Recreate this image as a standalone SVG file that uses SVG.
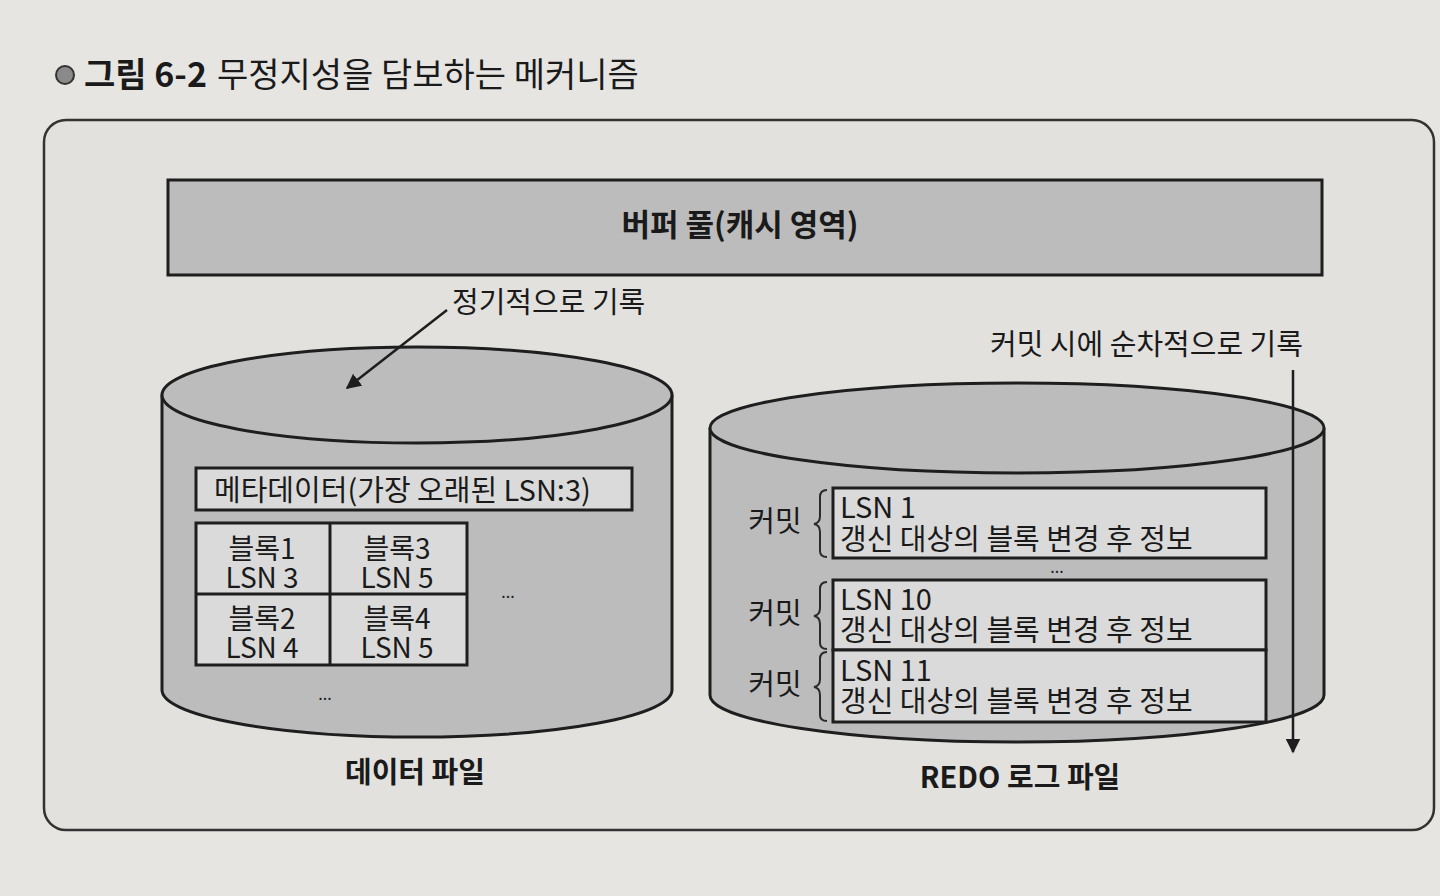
<svg xmlns="http://www.w3.org/2000/svg" width="1440" height="896" viewBox="0 0 1440 896">
<defs>
<style>
text{font-family:"Noto Sans CJK KR","Noto Sans",sans-serif;fill:#1a1a1a}
.shape{fill:#bcbcbc;stroke:#1e1e1e;stroke-width:3}
.box{fill:#dadada;stroke:#1e1e1e;stroke-width:3}
.lbl{font-size:29px}
.blk{font-size:28px}
.bold{font-weight:700}
.conn{stroke:#1e1e1e;stroke-width:2.5;fill:none}
.brace{stroke:#2a2a2a;stroke-width:2;fill:none}
</style>
<marker id="ah" viewBox="0 0 10 10" refX="9" refY="5" markerWidth="6" markerHeight="6" orient="auto">
<path d="M0,0 L10,5 L0,10 z" fill="#1e1e1e"/>
</marker>
</defs>
<rect width="1440" height="896" fill="#e6e5e2"/>
<g id="title">
<circle cx="65" cy="75" r="9" fill="#8a8a8a" stroke="#333" stroke-width="2"/>
<text x="84" y="87" font-size="34"><tspan font-weight="700">그림 6-2</tspan><tspan dx="10">무정지성을 담보하는 메커니즘</tspan></text>
</g>
<g id="frame">
<rect x="44" y="120" width="1390" height="710" rx="22" fill="#e2e1de" stroke="#333" stroke-width="2.5"/>
</g>
<g id="buffer-pool">
<rect class="shape" x="168" y="180" width="1154" height="95"/>
<text class="bold" x="740" y="236" text-anchor="middle" font-size="31">버퍼 풀(캐시 영역)</text>
</g>
<g id="data-file">
<path class="shape" d="M162,395 L162,690 A255,47 0 0 0 672,690 L672,395"/>
<ellipse class="shape" cx="417" cy="395" rx="255" ry="48"/>
<rect class="box" x="196" y="468" width="436" height="42"/>
<text class="lbl" x="214" y="501">메타데이터(가장 오래된 LSN:3)</text>
<rect class="box" x="196" y="523" width="271" height="142"/>
<line x1="330" y1="523" x2="330" y2="665" stroke="#1e1e1e" stroke-width="3"/>
<line x1="196" y1="594" x2="467" y2="594" stroke="#1e1e1e" stroke-width="3"/>
<text class="blk" x="262" y="559" text-anchor="middle">블록1</text>
<text class="blk" x="262" y="588" text-anchor="middle">LSN 3</text>
<text class="blk" x="397" y="559" text-anchor="middle">블록3</text>
<text class="blk" x="397" y="588" text-anchor="middle">LSN 5</text>
<text class="blk" x="262" y="629" text-anchor="middle">블록2</text>
<text class="blk" x="262" y="658" text-anchor="middle">LSN 4</text>
<text class="blk" x="397" y="629" text-anchor="middle">블록4</text>
<text class="blk" x="397" y="658" text-anchor="middle">LSN 5</text>
<text x="508" y="598" font-size="16" text-anchor="middle" fill="#666">...</text>
<text x="325" y="700" font-size="16" text-anchor="middle" fill="#666">...</text>
<text class="lbl bold" x="415" y="783" text-anchor="middle">데이터 파일</text>
</g>
<g id="redo-log">
<path class="shape" d="M710,428 L710,695 A307,47 0 0 0 1324,695 L1324,428"/>
<ellipse class="shape" cx="1017" cy="428" rx="307" ry="45"/>
<rect class="box" x="833" y="488" width="433" height="70"/>
<text class="lbl" x="840" y="518">LSN 1</text>
<text class="lbl" x="840" y="550">갱신 대상의 블록 변경 후 정보</text>
<text x="1057" y="573" font-size="16" text-anchor="middle" fill="#555">...</text>
<rect class="box" x="833" y="580" width="433" height="70"/>
<text class="lbl" x="840" y="610">LSN 10</text>
<text class="lbl" x="840" y="641">갱신 대상의 블록 변경 후 정보</text>
<rect class="box" x="833" y="650" width="433" height="72"/>
<text class="lbl" x="840" y="681">LSN 11</text>
<text class="lbl" x="840" y="712">갱신 대상의 블록 변경 후 정보</text>
<path class="brace" d="M827,490 q-7,0 -7,7 v19 q0,7 -6,8 q6,1 6,8 v19 q0,6 7,6"/>
<path class="brace" d="M827,582 q-7,0 -7,7 v19 q0,7 -6,8 q6,1 6,8 v19 q0,6 7,6"/>
<path class="brace" d="M827,652 q-7,0 -7,7 v20 q0,7 -6,8 q6,1 6,8 v20 q0,6 7,6"/>
<text class="lbl" x="775" y="532" text-anchor="middle">커밋</text>
<text class="lbl" x="775" y="624" text-anchor="middle">커밋</text>
<text class="lbl" x="775" y="695" text-anchor="middle">커밋</text>
<text class="lbl bold" x="1020" y="788" text-anchor="middle">REDO 로그 파일</text>
</g>
<g id="connectors">
<text class="lbl" x="452" y="313">정기적으로 기록</text>
<line class="conn" x1="447" y1="310" x2="347" y2="388" marker-end="url(#ah)"/>
<text class="lbl" x="990" y="355">커밋 시에 순차적으로 기록</text>
<line class="conn" x1="1293" y1="370" x2="1293" y2="752" marker-end="url(#ah)"/>
</g>
</svg>
